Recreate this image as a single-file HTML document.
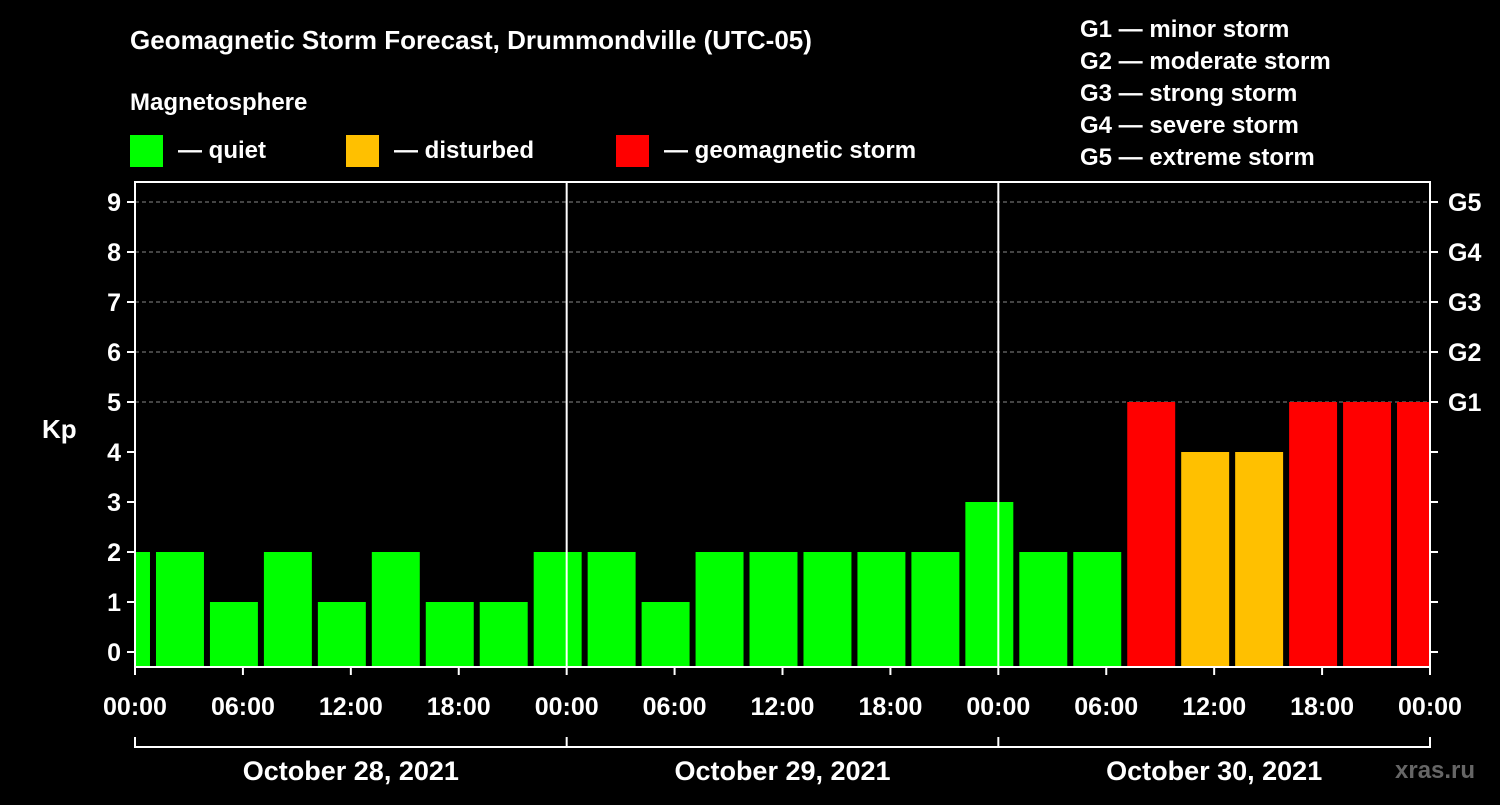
<!DOCTYPE html>
<html><head><meta charset="utf-8"><style>
body{margin:0;background:#000;width:1500px;height:800px;overflow:hidden;font-family:"Liberation Sans",Arial,sans-serif}
text{font-family:"Liberation Sans",Arial,sans-serif;font-weight:bold;fill:#fff}
</style></head><body>
<svg id="chart" width="1500" height="800">
<text x="130" y="49" font-size="26">Geomagnetic Storm Forecast, Drummondville (UTC-05)</text>
<text x="130" y="110" font-size="24">Magnetosphere</text>
<g><rect x="130" y="135" width="33" height="32" fill="#00ff00"/><text x="178" y="158" font-size="24">— quiet</text></g>
<g><rect x="346" y="135" width="33" height="32" fill="#ffc000"/><text x="394" y="158" font-size="24">— disturbed</text></g>
<g><rect x="616" y="135" width="33" height="32" fill="#ff0000"/><text x="664" y="158" font-size="24">— geomagnetic storm</text></g>
<g font-size="24">
<text x="1080" y="37">G1 — minor storm</text><text x="1080" y="69">G2 — moderate storm</text><text x="1080" y="101">G3 — strong storm</text><text x="1080" y="133">G4 — severe storm</text><text x="1080" y="165">G5 — extreme storm</text></g>
<text x="1395" y="778" font-size="24" fill="#777" style="fill:#666">xras.ru</text>
<text x="42" y="438" font-size="26">Kp</text>
<g id="plot"></g>
</svg>
<script>
const kpValues=[2,2,1,2,1,2,1,1,2, 2,1,2,2,2,2,2,3, 2,2,5,4,4,5,5,5];
const startHours=[-2,1,4,7,10,13,16,19,22, 25,28,31,34,37,40,43,46, 49,52,55,58,61,64,67,70];
const xTicks=["00:00","06:00","12:00","18:00","00:00","06:00","12:00","18:00","00:00","06:00","12:00","18:00","00:00"];
const dayLabels=["October 28, 2021","October 29, 2021","October 30, 2021"];
const gLabels=["G1","G2","G3","G4","G5"];
const L=135,R=1430,T=182,B=667;
const x=h=>L+h*(R-L)/72;
const y=k=>652-k*50;
const NS="http://www.w3.org/2000/svg";
const p=document.getElementById('plot');
function mk(t,a,txt){const e=document.createElementNS(NS,t);for(const k in a)e.setAttribute(k,a[k]);if(txt!==undefined)e.textContent=txt;p.appendChild(e);return e;}
for(let k=5;k<=9;k++){const e=mk('line',{x1:L,x2:R,y1:y(k),y2:y(k),stroke:'#888','stroke-dasharray':'4,3'});

}
kpValues.forEach((v,i)=>{let x0=Math.max(L,x(startHours[i])+3),x1=Math.min(R,x(startHours[i]+3)-3);
const c=v>=5?'#ff0000':v>=4?'#ffc000':'#00ff00';
const e=mk('rect',{x:x0,y:y(v),width:x1-x0,height:B-y(v),fill:c});

});
for(let d=1;d<3;d++){const e=mk('line',{x1:x(d*24),x2:x(d*24),y1:T,y2:B,stroke:'#fff','stroke-width':2});

}
const fr=mk('rect',{x:L,y:T,width:R-L,height:B-T,fill:'none',stroke:'#fff','stroke-width':2});


for(let k=0;k<=9;k++){mk('line',{x1:L-8,x2:L,y1:y(k),y2:y(k),stroke:'#fff','stroke-width':2});mk('line',{x1:R,x2:R+8,y1:y(k),y2:y(k),stroke:'#fff','stroke-width':2});
const t=mk('text',{x:L-14,y:y(k)+9,'font-size':25,'text-anchor':'end'},String(k));

}
gLabels.forEach((g,i)=>{const t=mk('text',{x:R+18,y:y(i+5)+9,'font-size':25},g);

});
xTicks.forEach((s,i)=>{mk('line',{x1:x(i*6),x2:x(i*6),y1:B,y2:B+8,stroke:'#fff','stroke-width':2});
const t=mk('text',{x:x(i*6),y:715,'font-size':25,'text-anchor':'middle'},s);

});
mk('line',{x1:L,x2:R,y1:747,y2:747,stroke:'#fff','stroke-width':2});
for(let d=0;d<=3;d++)mk('line',{x1:x(d*24),x2:x(d*24),y1:737,y2:748,stroke:'#fff','stroke-width':2});
dayLabels.forEach((s,i)=>{const t=mk('text',{x:x(i*24+12),y:780,'font-size':27,'text-anchor':'middle'},s);

});
</script>
</body></html>
